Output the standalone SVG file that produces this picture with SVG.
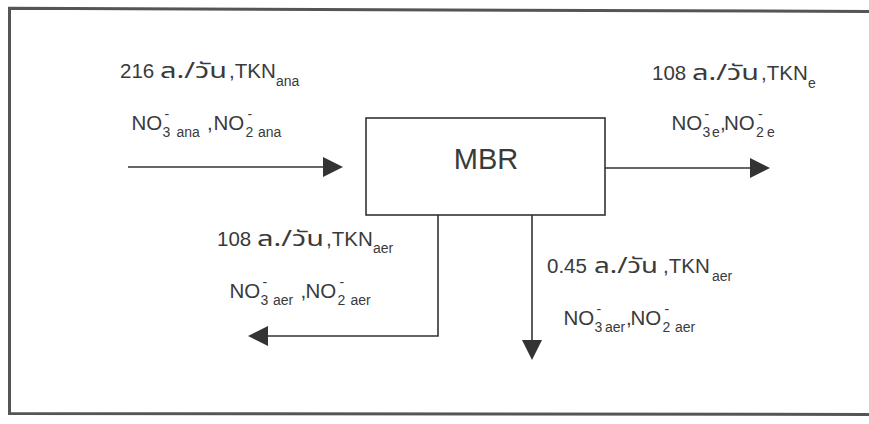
<svg xmlns="http://www.w3.org/2000/svg" width="869" height="424" viewBox="0 0 869 424">
<style>
text{font-family:"Liberation Sans",Arial,"Noto Sans Thai","Noto Sans","DejaVu Sans",sans-serif;fill:#3a3a3a;font-size:20.5px}
.th{font-family:"Noto Sans Thai","Liberation Sans","Noto Sans","DejaVu Sans",sans-serif;font-weight:normal;font-size:21px}
.sub{font-size:14px}
.sup{font-size:14px}
.mbr{font-size:29px}
.ln{stroke:#333;stroke-width:1.6;fill:none}
.hd{fill:#333;stroke:none}
.frame{stroke:#555;stroke-width:3;fill:none}
</style>
<rect x="0" y="0" width="869" height="424" fill="#fff"/>
<path class="frame" d="M872 11.5 L9.5 8.3 L9.5 413.5 L872 414.5"/>
<g id="connectors">
<line class="ln" x1="128" y1="167" x2="325" y2="167"/>
<polygon class="hd" points="323,157 343,167 323,177"/>
<line class="ln" x1="605" y1="168" x2="752" y2="168"/>
<polygon class="hd" points="750,158 770,168 750,178"/>
<polyline class="ln" points="438,215 438,336 266,336"/>
<polygon class="hd" points="268,326 248,336 268,346"/>
<line class="ln" x1="532" y1="215" x2="532" y2="342"/>
<polygon class="hd" points="522,340 542,340 532,360"/>
</g>
<g id="mbr">
<rect x="366" y="118" width="239" height="97" fill="#fff" stroke="#333" stroke-width="1.6"/>
<text class="mbr" x="486" y="169" text-anchor="middle">MBR</text>
</g>
<g id="influent">
<text x="120" y="78">216</text>
<text class="th" x="160" y="78" textLength="67" lengthAdjust="spacingAndGlyphs">ล./วัน</text>
<text x="229" y="78">,TKN<tspan class="sub" x="276" y="86">ana</tspan></text>
<text x="131.5" y="130">NO<tspan class="sub" x="162.5" y="137">3</tspan><tspan class="sup" x="164.5" y="119">-</tspan><tspan class="sub" x="176.5" y="137">ana</tspan><tspan x="207" y="130">,</tspan><tspan x="213.5" y="130">NO</tspan><tspan class="sub" x="245.5" y="137">2</tspan><tspan class="sup" x="247.5" y="119">-</tspan><tspan class="sub" x="258" y="137">ana</tspan></text>
</g>
<g id="effluent">
<text x="652" y="80">108</text>
<text class="th" x="692" y="80" textLength="67" lengthAdjust="spacingAndGlyphs">ล./วัน</text>
<text x="761" y="80">,TKN<tspan class="sub" x="808" y="88">e</tspan></text>
<text x="671.5" y="130">NO<tspan class="sub" x="702.5" y="137">3</tspan><tspan class="sup" x="704.5" y="119">-</tspan><tspan class="sub" x="712" y="137">e</tspan><tspan x="720" y="130">,</tspan><tspan x="724" y="130">NO</tspan><tspan class="sub" x="756" y="137">2</tspan><tspan class="sup" x="758" y="119">-</tspan><tspan class="sub" x="767" y="137">e</tspan></text>
</g>
<g id="recycle">
<text x="217" y="246">108</text>
<text class="th" x="257" y="246" textLength="67" lengthAdjust="spacingAndGlyphs">ล./วัน</text>
<text x="326" y="246">,TKN<tspan class="sub" x="373" y="253">aer</tspan></text>
<text x="229.5" y="298">NO<tspan class="sub" x="260.5" y="305">3</tspan><tspan class="sup" x="262.5" y="287">-</tspan><tspan class="sub" x="273" y="305">aer</tspan><tspan x="300.5" y="298">,</tspan><tspan x="305.5" y="298">NO</tspan><tspan class="sub" x="337.5" y="305">2</tspan><tspan class="sup" x="339.5" y="287">-</tspan><tspan class="sub" x="350.5" y="305">aer</tspan></text>
</g>
<g id="sludge">
<text x="547" y="273">0.45</text>
<text class="th" x="594" y="273" textLength="64" lengthAdjust="spacingAndGlyphs">ล./วัน</text>
<text x="663" y="273">,TKN<tspan class="sub" x="712" y="281">aer</tspan></text>
<text x="563.5" y="325">NO<tspan class="sub" x="594.5" y="332">3</tspan><tspan class="sup" x="596.5" y="314">-</tspan><tspan class="sub" x="605" y="332">aer</tspan><tspan x="626" y="325">,</tspan><tspan x="630.5" y="325">NO</tspan><tspan class="sub" x="662.5" y="332">2</tspan><tspan class="sup" x="664.5" y="314">-</tspan><tspan class="sub" x="675" y="332">aer</tspan></text>
</g>
</svg>
